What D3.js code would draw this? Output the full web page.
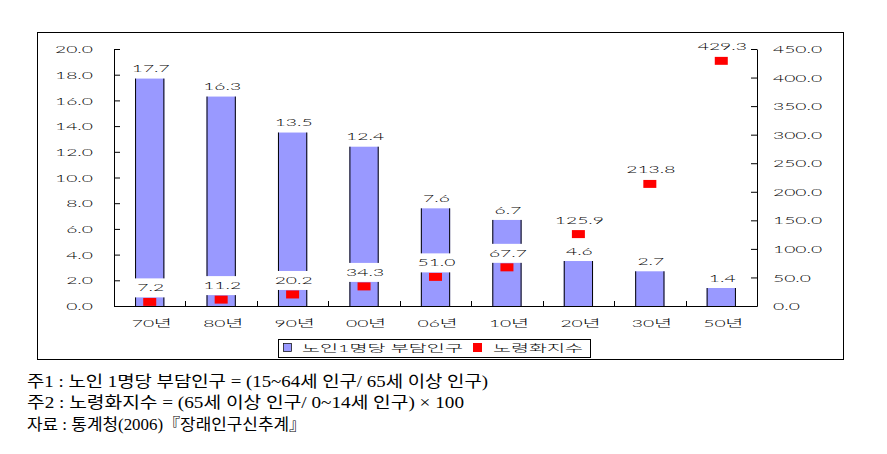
<!DOCTYPE html>
<html>
<head>
<meta charset="utf-8">
<script src="https://cdn.jsdelivr.net/npm/d3@7"></script>
<style>
  html, body { margin: 0; padding: 0; background: #fff; }
  svg { display: block; }
  .ct { font-family: "Lato", "Noto Sans CJK KR", sans-serif; font-weight: 300; font-size: 10px; fill: #000; }
  .note { font-family: "Liberation Serif", "Noto Sans CJK KR", serif; font-size: 16px; fill: #000; }
</style>
</head>
<body>
<svg id="chart" width="887" height="454"></svg>
<script>
// ---- data ----
const categories = ["70년", "80년", "90년", "00년", "06년", "10년", "20년", "30년", "50년"];
// 노인 1명당 부담인구 – labels as printed
const burdenLabels = [17.7, 16.3, 13.5, 12.4, 7.6, 6.7, 4.6, 2.7, 1.4];
// bar heights as drawn in the original (the 20년 bar is drawn at about 3.5)
const burdenBars = [17.7, 16.3, 13.5, 12.4, 7.6, 6.7, 3.5, 2.7, 1.4];
// 노령화지수
const agingIndex = [7.2, 11.2, 20.2, 34.3, 51.0, 67.7, 125.9, 213.8, 429.3];
const leftTicks = [0, 2, 4, 6, 8, 10, 12, 14, 16, 18, 20];
const rightTicks = [0, 50, 100, 150, 200, 250, 300, 350, 400, 450];
const legendLabels = ["노인1명당 부담인구", "노령화지수"];
const notes = [
  "주1 : 노인 1명당 부담인구 = (15~64세 인구/ 65세 이상 인구)",
  "주2 : 노령화지수 = (65세 이상 인구/ 0~14세 인구) × 100",
  "자료 : 통계청(2006)『장래인구신추계』"
];

// ---- layout ----
const BAR = "#9999FF", RED = "#FF0000";
const svg = d3.select("#chart");
const L = 114, R = 757, T = 49, B = 306;

const x = d3.scaleBand().domain(categories).range([L, R]).paddingInner(0.59).paddingOuter(0.295);
const yL = d3.scaleLinear().domain([0, 20]).range([B, T]);
const yR = d3.scaleLinear().domain([0, 450]).range([B, T]);
const fmt = d3.format(".1f");

// measure natural width of a string in class .ct to get a common horizontal stretch
const probe = svg.append("text").attr("class", "ct").text("20.0");
const SX = 38 / probe.node().getComputedTextLength();
probe.remove();

// outer frame
svg.append("rect").attr("x", 37.5).attr("y", 32.5).attr("width", 806).attr("height", 327)
  .attr("fill", "#fff").attr("stroke", "#000").attr("stroke-width", 1);

// bars
const bars = svg.append("g");
categories.forEach((c, i) => {
  const x0 = x(c), w = x.bandwidth(), yt = yL(burdenBars[i]);
  bars.append("rect").attr("x", x0).attr("y", yt).attr("width", w).attr("height", B - yt).attr("fill", BAR);
  bars.append("line").attr("x1", x0 + 0.5).attr("x2", x0 + 0.5).attr("y1", yt).attr("y2", B).attr("stroke", "#000");
  bars.append("line").attr("x1", x0 + w - 0.5).attr("x2", x0 + w - 0.5).attr("y1", yt).attr("y2", B).attr("stroke", "#000");
});

// markers
const mk = svg.append("g");
categories.forEach((c, i) => {
  const cx = x(c) + x.bandwidth() / 2, cy = yR(agingIndex[i]);
  mk.append("rect").attr("x", cx - 6.5).attr("y", cy - 4).attr("width", 13).attr("height", 8).attr("fill", RED);
});

// stretched text helper
function sText(parent, px, py, str, anchor, sx, size) {
  const g = parent.append("g").attr("transform", `translate(${px},${py}) scale(${sx},1)`);
  const t = g.append("text").attr("class", "ct").attr("text-anchor", anchor || "middle").text(str);
  if (size) t.style("font-size", size + "px");
  return { g, t };
}
// label with white box, centred at (cx, cy)
function boxLabel(parent, cx, cy, str, boxW) {
  const grp = parent.append("g");
  const box = grp.append("rect").attr("fill", "#fff");
  const { t } = sText(grp, cx + 1, cy + 3.6, str, "middle", SX);
  const tw = t.node().getComputedTextLength() * SX;
  const w = Math.max(tw + 10, boxW || 0);
  box.attr("x", cx - w / 2).attr("y", cy - 9.5).attr("width", w).attr("height", 19);
}

// axes
const axL = svg.append("g").attr("transform", `translate(${L},0)`)
  .call(d3.axisLeft(yL).tickValues(leftTicks).tickSizeInner(-6).tickSizeOuter(0).tickFormat(fmt));
const axR = svg.append("g").attr("transform", `translate(${R},0)`)
  .call(d3.axisRight(yR).tickValues(rightTicks).tickSizeInner(-6).tickSizeOuter(0).tickFormat(fmt));
[axL, axR].forEach(a => {
  a.attr("font-family", null).attr("font-size", null);
  a.select(".domain").attr("stroke", "#000");
  a.selectAll(".tick line").attr("stroke", "#000");
});
axL.selectAll(".tick text").attr("class", "ct").attr("x", 0).attr("dy", null).attr("y", 3.6)
  .attr("text-anchor", "end").attr("transform", `translate(-21,0) scale(${SX},1)`);
axR.selectAll(".tick text").attr("class", "ct").attr("x", 0).attr("dy", null).attr("y", 3.6)
  .attr("text-anchor", "start").attr("transform", `translate(16,0) scale(${SX},1)`);

const axB = svg.append("g").attr("transform", `translate(0,${B})`)
  .call(d3.axisBottom(x).tickSize(0).tickSizeOuter(0));
axB.attr("font-family", null).attr("font-size", null);
axB.select(".domain").attr("stroke", "#000");
axB.selectAll(".tick text").attr("class", "ct").attr("y", 0).attr("dy", null)
  .attr("transform", `translate(2,20.5) scale(${SX},1)`);
// boundary ticks between categories
const step = x.step();
categories.slice(0, -1).forEach(c => {
  const bx = Math.round(x(c) + x.bandwidth() + (step - x.bandwidth()) / 2) + 0.5;
  svg.append("line").attr("x1", bx).attr("x2", bx).attr("y1", B).attr("y2", B - 5).attr("stroke", "#000");
});

// data labels
const lbl = svg.append("g");
categories.forEach((c, i) => {
  const cx = x(c) + x.bandwidth() / 2;
  boxLabel(lbl, cx, yL(burdenBars[i]) - 10, fmt(burdenLabels[i]));
});
categories.forEach((c, i) => {
  const cx = x(c) + x.bandwidth() / 2;
  boxLabel(lbl, cx, yR(agingIndex[i]) - 14, fmt(agingIndex[i]), x.bandwidth() + 4);
});

// legend
const lg = svg.append("g");
lg.append("rect").attr("x", 278.5).attr("y", 339.5).attr("width", 312).attr("height", 18)
  .attr("fill", "#fff").attr("stroke", "#000");
lg.append("rect").attr("x", 283.5).attr("y", 343.5).attr("width", 8).attr("height", 8)
  .attr("fill", BAR).attr("stroke", "#000").attr("stroke-width", 0.7);
lg.append("rect").attr("x", 473).attr("y", 343).attr("width", 9).attr("height", 9).attr("fill", RED);
[[302, 161], [493, 90]].forEach(([lx, target], i) => {
  const { g, t } = sText(lg, lx, 352, legendLabels[i], "start", 1, 10.5);
  const s = target / t.node().getComputedTextLength();
  g.attr("transform", `translate(${lx},352) scale(${s},1)`);
});

// footnotes
const nt = svg.append("g");
[461, 437, 279].forEach((target, i) => {
  nt.append("text").attr("class", "note").attr("x", 27).attr("y", 387 + i * 21.3)
    .attr("textLength", target).attr("lengthAdjust", "spacingAndGlyphs").text(notes[i]);
});
</script>
</body>
</html>
